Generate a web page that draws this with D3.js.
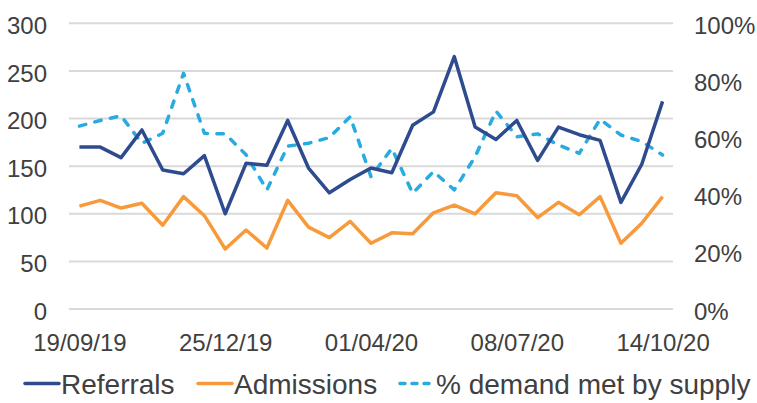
<!DOCTYPE html>
<html>
<head>
<meta charset="utf-8">
<script src="https://cdn.jsdelivr.net/npm/d3@7"></script>
<style>
  body { margin: 0; background: #fff; }
  text { font-family: "Liberation Sans", Arial, sans-serif; fill: #404040; }
</style>
</head>
<body>
<svg id="chart" width="757" height="403"></svg>
<script>
// fortnightly dates, only every 7th is labelled
const dates = ["19/09/19", "03/10/19", "17/10/19", "31/10/19", "14/11/19", "28/11/19", "12/12/19",
    "25/12/19", "09/01/20", "23/01/20", "06/02/20", "20/02/20", "05/03/20", "19/03/20",
    "01/04/20", "15/04/20", "29/04/20", "13/05/20", "27/05/20", "10/06/20", "24/06/20",
    "08/07/20", "22/07/20", "05/08/20", "19/08/20", "02/09/20", "16/09/20", "30/09/20", "14/10/20"];
const referrals = [170, 170, 159, 188, 146, 142, 161, 100, 153, 151, 198, 148, 122, 136, 148,
    143, 193, 207, 265, 191, 178, 198, 156, 191, 183, 177, 112, 152, 218];
const admissions = [108, 114, 106, 111, 88, 118, 98, 63, 83, 64, 114, 86, 75, 92, 69,
    80, 79, 101, 109, 100, 122, 119, 96, 112, 99, 118, 69, 90, 118];
const demandMet = [0.64, 0.66, 0.676, 0.58, 0.615, 0.825, 0.615, 0.613, 0.54, 0.417, 0.57, 0.58, 0.60, 0.673, 0.463,
    0.562, 0.405, 0.481, 0.417, 0.533, 0.693, 0.603, 0.613, 0.574, 0.545, 0.664, 0.609, 0.586, 0.539];
const leftTicks = [0, 50, 100, 150, 200, 250, 300];
const rightTicks = [0, 0.2, 0.4, 0.6, 0.8, 1];
const shownDates = ["19/09/19", "25/12/19", "01/04/20", "08/07/20", "14/10/20"];

const svg = d3.select("#chart");
const plot = {left: 69, right: 673, top: 23.3, bottom: 309};

let x = d3.scalePoint().domain(dates).range([plot.left, plot.right]).padding(0.5);
let yL = d3.scaleLinear().domain([0, 300]).range([plot.bottom, plot.top]);
let yR = d3.scaleLinear().domain([0, 1]).range([plot.bottom, plot.top]);

// gridlines
svg.append("g")
    .selectAll("line")
    .data(leftTicks)
    .enter().append("line")
    .attr("x1", plot.left).attr("x2", plot.right)
    .attr("y1", d => yL(d)).attr("y2", d => yL(d))
    .attr("stroke", "#D9D9D9")
    .attr("stroke-width", 2);

// left axis
let leftAxis = svg.append("g")
    .attr("transform", "translate(47,0)")
    .call(d3.axisLeft(yL).tickValues(leftTicks).tickSize(0).tickPadding(0));
leftAxis.select(".domain").remove();
leftAxis.selectAll("text").attr("font-size", 24).attr("font-family", null).attr("dy", "0.42em");

// right axis
let rightAxis = svg.append("g")
    .attr("transform", "translate(694,0)")
    .call(d3.axisRight(yR).tickValues(rightTicks).tickSize(0).tickPadding(0).tickFormat(d3.format(".0%")));
rightAxis.select(".domain").remove();
rightAxis.selectAll("text").attr("font-size", 24).attr("font-family", null).attr("dy", "0.42em");

// x axis
let bottomAxis = svg.append("g")
    .attr("transform", "translate(0,333)")
    .call(d3.axisBottom(x).tickValues(shownDates).tickSize(0).tickPadding(0));
bottomAxis.select(".domain").remove();
bottomAxis.selectAll("text").attr("font-size", 24).attr("font-family", null).attr("dy", "0.76em");

// lines
let lineL = d3.line().x((d, i) => x(dates[i])).y(d => yL(d));
let lineR = d3.line().x((d, i) => x(dates[i])).y(d => yR(d));

svg.append("path")
    .datum(demandMet)
    .attr("d", lineR)
    .attr("fill", "none")
    .attr("stroke", "#29ABE2")
    .attr("stroke-width", 3.5)
    .attr("stroke-dasharray", "6.5,9.5")
    .attr("stroke-linecap", "round")
    .attr("stroke-linejoin", "round");

svg.append("path")
    .datum(admissions)
    .attr("d", lineL)
    .attr("fill", "none")
    .attr("stroke", "#F79A3B")
    .attr("stroke-width", 3.5)
    .attr("stroke-linejoin", "round");

svg.append("path")
    .datum(referrals)
    .attr("d", lineL)
    .attr("fill", "none")
    .attr("stroke", "#2D4B8E")
    .attr("stroke-width", 3.5)
    .attr("stroke-linejoin", "round");

// legend
const legend = [
    {name: "Referrals", color: "#2D4B8E", dash: null, x: 24},
    {name: "Admissions", color: "#F79A3B", dash: null, x: 197},
    {name: "% demand met by supply", color: "#29ABE2", dash: "5,7", x: 399}
];
let lg = svg.append("g");
legend.forEach(function (d) {
    lg.append("line")
        .attr("x1", d.x + 1).attr("x2", d.x + 35)
        .attr("y1", 383.5).attr("y2", 383.5)
        .attr("stroke", d.color)
        .attr("stroke-width", 3.5)
        .attr("stroke-linecap", "round")
        .attr("stroke-dasharray", d.dash);
    lg.append("text")
        .attr("x", d.x + 37)
        .attr("y", 394)
        .attr("font-size", 28)
        .text(d.name);
});
</script>
</body>
</html>
